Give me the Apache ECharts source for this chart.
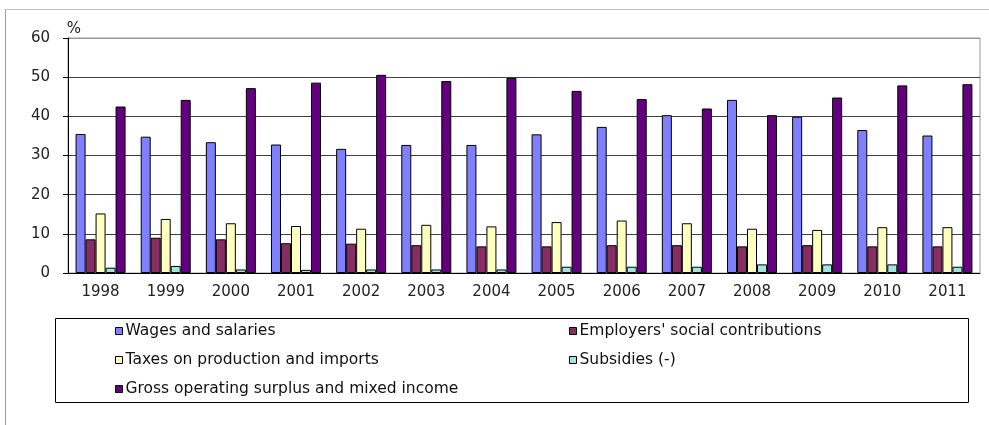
<!DOCTYPE html>
<html>
<head>
<meta charset="utf-8">
<script src="https://cdn.jsdelivr.net/npm/echarts@6/dist/echarts.min.js"></script>
<style>
  html, body { margin: 0; padding: 0; background: #fff; }
  #chart { width: 989px; height: 425px; }
</style>
</head>
<body>
<div id="chart"></div>
<script>
var dom = document.getElementById("chart");
var myChart = echarts.init(dom);

// data (% share)
const years = ['1998', '1999', '2000', '2001', '2002', '2003', '2004', '2005', '2006', '2007', '2008', '2009', '2010', '2011'];
const wages = [35.5, 34.8, 33.4, 32.8, 31.7, 32.7, 32.7, 35.4, 37.3, 40.3, 44.2, 39.9, 36.5, 35.1];
const employers = [8.6, 9.0, 8.6, 7.6, 7.5, 7.1, 6.8, 6.8, 7.1, 7.1, 6.8, 7.1, 6.8, 6.8];
const taxes = [15.2, 13.8, 12.7, 12.0, 11.3, 12.3, 11.9, 13.0, 13.4, 12.7, 11.3, 11.0, 11.7, 11.7];
const subsidies = [1.35, 1.8, 0.9, 0.8, 0.9, 0.9, 0.9, 1.6, 1.6, 1.6, 2.2, 2.2, 2.2, 1.6];
const gross = [42.5, 44.2, 47.2, 48.6, 50.6, 49.0, 49.8, 46.5, 44.4, 42.0, 40.3, 44.8, 47.9, 48.2];

const names = ['Wages and salaries', "Employers' social contributions", 'Taxes on production and imports', 'Subsidies (-)', 'Gross operating surplus and mixed income'];
const colors = ['#8080ff', '#862d63', '#ffffc0', '#a0e4e4', '#62007e'];
const values = [wages, employers, taxes, subsidies, gross];

const font = 'DejaVu Sans, Arial, sans-serif';

var series = names.map(function (n, i) {
  return {
    name: n,
    type: 'bar',
    data: values[i],
    barWidth: 10,
    barGap: '0%',
    itemStyle: { color: colors[i], borderColor: '#000', borderWidth: 1 }
  };
});

var legendCommon = {
  orient: 'vertical',
  icon: 'rect',
  itemWidth: 7,
  itemHeight: 7,
  itemGap: 13,
  selectedMode: false,
  itemStyle: { borderColor: '#000', borderWidth: 1 },
  textStyle: { fontFamily: font, fontSize: 15.5, color: '#111', padding: [0, 0, 0, -2] }
};

option = {
  animation: false,
  color: colors,
  grid: { left: 68, right: 9, top: 38, bottom: 152, show: true, borderColor: '#999', borderWidth: 1 },
  legend: [
    Object.assign({ data: [names[0], names[2], names[4]], left: 110, top: 318 }, legendCommon),
    Object.assign({ data: [names[1], names[3]], left: 564, top: 318 }, legendCommon)
  ],
  xAxis: {
    type: 'category',
    data: years,
    axisLine: { lineStyle: { color: '#000', width: 1 } },
    axisTick: { length: 5, lineStyle: { color: '#000' } },
    axisLabel: { fontFamily: font, fontSize: 15, color: '#222', margin: 12 }
  },
  yAxis: {
    type: 'value',
    min: 0,
    max: 60,
    interval: 10,
    name: '%',
    nameLocation: 'end',
    nameGap: 1,
    nameTextStyle: { fontFamily: font, fontSize: 15, color: '#222', padding: [0, 0, 0, 12] },
    axisLine: { show: true, lineStyle: { color: '#000', width: 1 } },
    axisTick: { show: true, length: 5, lineStyle: { color: '#000' } },
    axisLabel: { fontFamily: font, fontSize: 15, color: '#222', margin: 18 },
    splitLine: { lineStyle: { color: ['#404040', '#404040', '#404040', '#404040', '#404040', '#404040', '#999'], width: 1 } }
  },
  graphic: [
    { type: 'line', shape: { x1: 5, y1: 9.5, x2: 989, y2: 9.5 }, style: { stroke: '#c0c0c0', lineWidth: 1 } },
    { type: 'line', shape: { x1: 5.5, y1: 9, x2: 5.5, y2: 425 }, style: { stroke: '#a0a0a0', lineWidth: 1 } },
    { type: 'rect', shape: { x: 55.5, y: 318.5, width: 913, height: 84 }, style: { fill: 'none', stroke: '#000', lineWidth: 1 } }
  ],
  series: series
};

if (option && typeof option === "object") {
  myChart.setOption(option, true);
}
</script>
</body>
</html>
